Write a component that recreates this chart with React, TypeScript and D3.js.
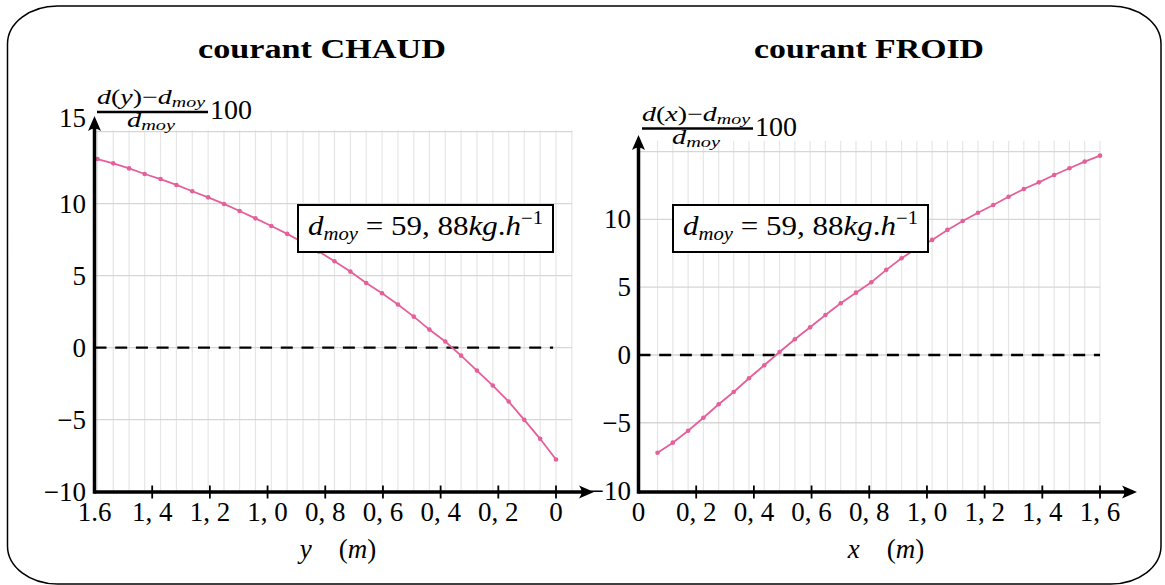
import React from 'react';
import * as d3 from 'd3';

// ---------- data ----------
// courant CHAUD : abscissa y (m) and relative deviation (%)
const CHAUD_Y = [0, 0.055, 0.110, 0.164, 0.219, 0.274, 0.329, 0.384, 0.439, 0.493, 0.548, 0.603, 0.658, 0.713, 0.768, 0.822, 0.877, 0.932, 0.987, 1.042, 1.097, 1.151, 1.206, 1.261, 1.316, 1.371, 1.426, 1.480, 1.535, 1.590];
const CHAUD_VAL = [-7.78, -6.34, -5.02, -3.75, -2.64, -1.60, -0.56, 0.42, 1.25, 2.15, 2.99, 3.77, 4.49, 5.28, 6.00, 6.67, 7.30, 7.90, 8.45, 8.98, 9.49, 9.98, 10.44, 10.86, 11.30, 11.71, 12.06, 12.45, 12.80, 13.10];
const CHAUD_GRID_EXTRA = [-0.055];

// courant FROID : abscissa x (m) and relative deviation (%)
const FROID_X = [0.066, 0.119, 0.172, 0.225, 0.278, 0.330, 0.383, 0.436, 0.489, 0.542, 0.595, 0.648, 0.701, 0.754, 0.807, 0.859, 0.912, 0.965, 1.018, 1.071, 1.124, 1.177, 1.230, 1.283, 1.336, 1.388, 1.441, 1.494, 1.547, 1.600];
const FROID_VAL = [-7.21, -6.47, -5.59, -4.63, -3.64, -2.73, -1.72, -0.76, 0.22, 1.16, 2.04, 2.95, 3.82, 4.60, 5.37, 6.28, 7.14, 7.87, 8.49, 9.23, 9.89, 10.50, 11.07, 11.68, 12.25, 12.74, 13.28, 13.78, 14.27, 14.71];

const X_TICKS = [0, 0.2, 0.4, 0.6, 0.8, 1.0, 1.2, 1.4, 1.6];
const X_LABELS_CHAUD = ['0', '0, 2', '0, 4', '0, 6', '0, 8', '1, 0', '1, 2', '1, 4', '1.6'];
const X_LABELS_FROID = ['0', '0, 2', '0, 4', '0, 6', '0, 8', '1, 0', '1, 2', '1, 4', '1, 6'];
const Y_GRID = [15, 10, 5, 0, -5];
const Y_TICKS_CHAUD = [15, 10, 5, 0, -5, -10];
const Y_TICKS_FROID = [10, 5, 0, -5, -10];

const TITLES = ['courant CHAUD', 'courant FROID'];

// ---------- style ----------
const FONT = 'Liberation Serif, serif';
const PINK = '#e5609b';
const GRID_V = '#e6e6e6';
const GRID_H = '#d6d6d6';

const fmtY = (v: number) => (v < 0 ? '\u2212' + Math.abs(v) : String(v));
const fs = { fontFamily: FONT };

function Arrow({ x, y, dir }: { x: number; y: number; dir: 'up' | 'right' }) {
  const d =
    dir === 'right'
      ? `M${x},${y} L${x - 15},${y - 6.5} Q${x - 10},${y} ${x - 15},${y + 6.5} Z`
      : `M${x},${y} L${x - 6.5},${y + 15} Q${x},${y + 10} ${x + 6.5},${y + 15} Z`;
  return <path d={d} fill="#000" />;
}

function MathBox({ x, y, w, h }: { x: number; y: number; w: number; h: number }) {
  return (
    <g>
      <rect x={x} y={y} width={w} height={h} fill="#fff" stroke="#000" strokeWidth={2} />
      <text
        x={x + 10}
        y={y + 30}
        style={fs}
        fontSize={27}
        textLength={w - 20}
        lengthAdjust="spacingAndGlyphs"
      >
        <tspan fontStyle="italic">d</tspan>
        <tspan fontStyle="italic" fontSize={18} dy={5}>moy</tspan>
        <tspan dy={-5}> = 59, 88</tspan>
        <tspan fontStyle="italic">kg</tspan>
        <tspan>.</tspan>
        <tspan fontStyle="italic">h</tspan>
        <tspan fontSize={18} dy={-11}>{'\u22121'}</tspan>
      </text>
    </g>
  );
}

function FracLabel({ x, y, v }: { x: number; y: number; v: string }) {
  // x,y : left end of the fraction bar
  return (
    <g style={fs}>
      <text x={x} y={y - 8} fontSize={21} textLength={108} lengthAdjust="spacingAndGlyphs">
        <tspan fontStyle="italic">d</tspan>
        <tspan>(</tspan>
        <tspan fontStyle="italic">{v}</tspan>
        <tspan>){'\u2212'}</tspan>
        <tspan fontStyle="italic">d</tspan>
        <tspan fontStyle="italic" fontSize={15} dy={3}>moy</tspan>
      </text>
      <line x1={x} x2={x + 111} y1={y} y2={y} stroke="#000" strokeWidth={2.6} />
      <text x={x + 30} y={y + 15} fontSize={21} textLength={48} lengthAdjust="spacingAndGlyphs">
        <tspan fontStyle="italic">d</tspan>
        <tspan fontStyle="italic" fontSize={15} dy={3}>moy</tspan>
      </text>
      <text x={x + 113} y={y + 7} fontSize={27} textLength={42} lengthAdjust="spacingAndGlyphs">100</text>
    </g>
  );
}

function AxisTitle({ x, y, v }: { x: number; y: number; v: string }) {
  return (
    <text x={x} y={y} style={fs} fontSize={27} textAnchor="middle">
      <tspan fontStyle="italic">{v}</tspan>
      <tspan>{'\u2003('}</tspan>
      <tspan fontStyle="italic">m</tspan>
      <tspan>)</tspan>
    </text>
  );
}

export default function App() {
  const W = 1165;
  const H = 585;
  const AXIS_Y = 492;

  // ---- left chart scales ----
  const xL = d3.scaleLinear().domain([1.6, 0]).range([94.5, 556]);
  const yL = d3.scaleLinear().domain([-10, 15]).range([491.5, 131.7]);
  // ---- right chart scales ----
  const xR = d3.scaleLinear().domain([0, 1.6]).range([638.5, 1100]);
  const yR = d3.scaleLinear().domain([-10, 15]).range([490.5, 151.7]);

  const lineL = d3
    .line<number>()
    .x((_, i) => xL(CHAUD_Y[i]))
    .y((d) => yL(d));
  const lineR = d3
    .line<number>()
    .x((_, i) => xR(FROID_X[i]))
    .y((d) => yR(d));

  const gridXL = [...CHAUD_Y, ...CHAUD_GRID_EXTRA];
  const leftGridRight = xL(d3.min(gridXL) as number);
  const leftTop = yL(15);
  const rightTop = yR(15.8);
  const rightGridRight = xR(1.6);

  return (
    <svg
      width={W}
      height={H}
      viewBox={`0 0 ${W} ${H}`}
      style={{ position: 'absolute', left: 0, top: 0, display: 'block', background: '#fff' }}
    >
      <rect x={0} y={0} width={W} height={H} fill="#fff" />
      {/* frame */}
      <rect x={7.5} y={6} width={1153.5} height={578} rx={50} ry={38} fill="none" stroke="#000" strokeWidth={1.5} />

      {/* titles */}
      <text x={322} y={58} style={fs} fontWeight="bold" fontSize={27} textAnchor="middle" textLength={248} lengthAdjust="spacingAndGlyphs">
        {TITLES[0]}
      </text>
      <text x={869} y={58} style={fs} fontWeight="bold" fontSize={27} textAnchor="middle" textLength={230} lengthAdjust="spacingAndGlyphs">
        {TITLES[1]}
      </text>

      {/* ================= LEFT CHART ================= */}
      <g>
        {gridXL.map((v, i) => (
          <line key={'gvl' + i} x1={xL(v)} x2={xL(v)} y1={leftTop - 1.5} y2={AXIS_Y} stroke={GRID_V} strokeWidth={1.2} />
        ))}
        {Y_GRID.map((v) => (
          <line key={'ghl' + v} x1={xL(1.6)} x2={leftGridRight} y1={yL(v)} y2={yL(v)} stroke={GRID_H} strokeWidth={1.3} />
        ))}
        <line x1={xL(1.6)} x2={xL(0.01)} y1={yL(0)} y2={yL(0)} stroke="#000" strokeWidth={2.3} strokeDasharray="12 8.7" />
        <path d={lineL(CHAUD_VAL) || ''} fill="none" stroke={PINK} strokeWidth={1.8} />
        {CHAUD_VAL.map((v, i) => (
          <circle key={'pl' + i} cx={xL(CHAUD_Y[i])} cy={yL(v)} r={2.3} fill={PINK} />
        ))}
        {/* axes */}
        <line x1={xL(1.6)} x2={590} y1={AXIS_Y} y2={AXIS_Y} stroke="#000" strokeWidth={3.5} />
        <Arrow x={594} y={AXIS_Y} dir="right" />
        <line x1={xL(1.6)} x2={xL(1.6)} y1={AXIS_Y + 1.75} y2={122} stroke="#000" strokeWidth={3.5} />
        <Arrow x={xL(1.6)} y={116} dir="up" />
        {X_TICKS.map((t, i) => (
          <g key={'xtl' + i}>
            {t !== 1.6 && (
              <line x1={xL(t)} x2={xL(t)} y1={AXIS_Y - 6.5} y2={AXIS_Y + 6.5} stroke="#000" strokeWidth={1.8} />
            )}
            <text x={xL(t)} y={521} style={fs} fontSize={27} textAnchor="middle">
              {X_LABELS_CHAUD[i]}
            </text>
          </g>
        ))}
        {Y_TICKS_CHAUD.map((t) => (
          <text key={'ytl' + t} x={86} y={(t === 15 ? yL(t) - 14 : yL(t)) + 9} style={fs} fontSize={27} textAnchor="end">
            {fmtY(t)}
          </text>
        ))}
        <MathBox x={298} y={205} w={255} h={47} />
        <FracLabel x={97} y={112} v="y" />
        <AxisTitle x={338} y={558} v="y" />
      </g>

      {/* ================= RIGHT CHART ================= */}
      <g>
        {FROID_X.map((v, i) => (
          <line key={'gvr' + i} x1={xR(v)} x2={xR(v)} y1={rightTop} y2={AXIS_Y} stroke={GRID_V} strokeWidth={1.2} />
        ))}
        {Y_GRID.map((v) => (
          <line key={'ghr' + v} x1={xR(0)} x2={rightGridRight} y1={yR(v)} y2={yR(v)} stroke={GRID_H} strokeWidth={1.3} />
        ))}
        <line x1={xR(0)} x2={xR(1.6)} y1={yR(0)} y2={yR(0)} stroke="#000" strokeWidth={2.3} strokeDasharray="12 8.7" />
        <path d={lineR(FROID_VAL) || ''} fill="none" stroke={PINK} strokeWidth={1.8} />
        {FROID_VAL.map((v, i) => (
          <circle key={'pr' + i} cx={xR(FROID_X[i])} cy={yR(v)} r={2.3} fill={PINK} />
        ))}
        <line x1={xR(0)} x2={1133} y1={AXIS_Y} y2={AXIS_Y} stroke="#000" strokeWidth={3.5} />
        <Arrow x={1137} y={AXIS_Y} dir="right" />
        <line x1={xR(0)} x2={xR(0)} y1={AXIS_Y + 1.75} y2={141} stroke="#000" strokeWidth={3.5} />
        <Arrow x={xR(0)} y={135} dir="up" />
        {X_TICKS.map((t, i) => (
          <g key={'xtr' + i}>
            {t !== 0 && (
              <line x1={xR(t)} x2={xR(t)} y1={AXIS_Y - 6.5} y2={AXIS_Y + 6.5} stroke="#000" strokeWidth={1.8} />
            )}
            <text x={xR(t)} y={521} style={fs} fontSize={27} textAnchor="middle">
              {X_LABELS_FROID[i]}
            </text>
          </g>
        ))}
        {Y_TICKS_FROID.map((t) => (
          <text key={'ytr' + t} x={631} y={yR(t) + 9} style={fs} fontSize={27} textAnchor="end">
            {fmtY(t)}
          </text>
        ))}
        <MathBox x={673} y={205} w={255} h={47} />
        <FracLabel x={642} y={128.5} v="x" />
        <AxisTitle x={886} y={558} v="x" />
      </g>
    </svg>
  );
}
